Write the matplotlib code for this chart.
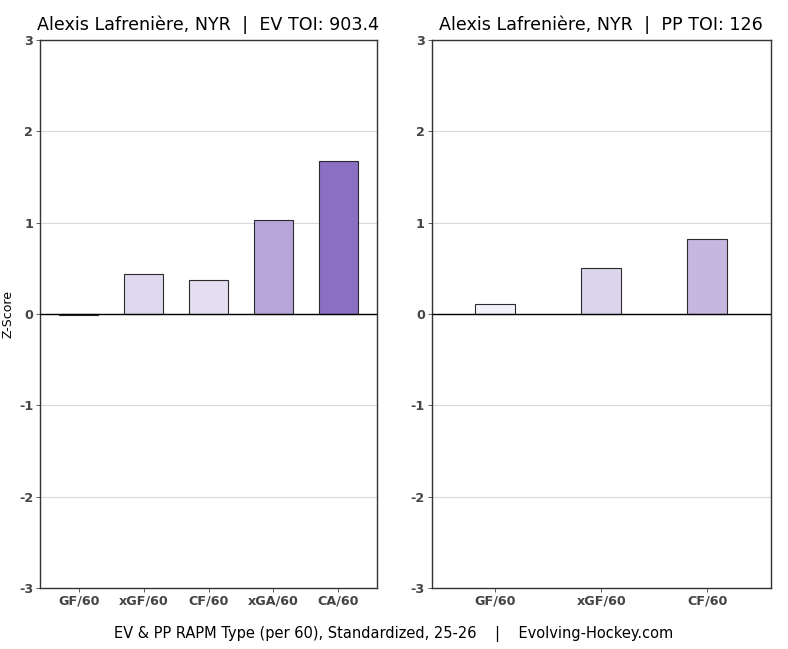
import matplotlib
matplotlib.use('Agg')
import matplotlib.pyplot as plt

plt.rcParams['axes.unicode_minus'] = False

# data
ev_labels = ['GF/60', 'xGF/60', 'CF/60', 'xGA/60', 'CA/60']
ev_values = [-0.01, 0.44, 0.37, 1.03, 1.68]
ev_colors = ['#f6f3fa', '#e0d8ee', '#e4def0', '#b8a5d8', '#8b6fc2']

pp_labels = ['GF/60', 'xGF/60', 'CF/60']
pp_values = [0.11, 0.50, 0.82]
pp_colors = ['#f4f1f9', '#dcd4ec', '#c6b7df']

player = 'Alexis Lafrenière, NYR'
ev_toi = '903.4'
pp_toi = '126'

fig = plt.figure(figsize=(7.88, 6.49), dpi=100)
ax1 = fig.add_axes([0.0508, 0.094, 0.4277, 0.8444])
ax2 = fig.add_axes([0.548, 0.094, 0.430, 0.8444])


def draw(ax, labels, values, colors, width, title):
    ax.set_axisbelow(True)
    ax.grid(axis='y', color='#d9d9d9', linewidth=0.8)
    ax.bar(range(len(labels)), values, width=width, color=colors,
           edgecolor='#2b2b2b', linewidth=0.8, zorder=3)
    ax.axhline(0, color='black', linewidth=1.0, zorder=4)
    ax.set_ylim(-3, 3)
    ax.set_xlim(-0.6, len(labels) - 0.4)
    ax.set_yticks([-3, -2, -1, 0, 1, 2, 3])
    ax.set_xticks(range(len(labels)))
    ax.set_xticklabels(labels)
    for lab in ax.get_xticklabels() + ax.get_yticklabels():
        lab.set_fontweight('bold')
        lab.set_color('#444444')
        lab.set_fontsize(9.2)
    ax.tick_params(length=3, width=0.6, color='#444444', pad=2)
    for s in ax.spines.values():
        s.set_color('#333333')
        s.set_linewidth(1.0)
    ax.set_title(title, fontsize=12.6, pad=7)


draw(ax1, ev_labels, ev_values, ev_colors, 0.6,
     player + '  |  EV TOI: ' + ev_toi)
draw(ax2, pp_labels, pp_values, pp_colors, 0.38,
     player + '  |  PP TOI: ' + pp_toi)

ax1.set_ylabel('Z-Score', fontsize=9)
ax1.yaxis.set_label_coords(-0.077, 0.5)

fig.text(0.5, 0.023, 'EV & PP RAPM Type (per 60), Standardized, 25-26    |    Evolving-Hockey.com',
         ha='center', va='center', fontsize=10.5)

fig.savefig('out.png', dpi=100)
